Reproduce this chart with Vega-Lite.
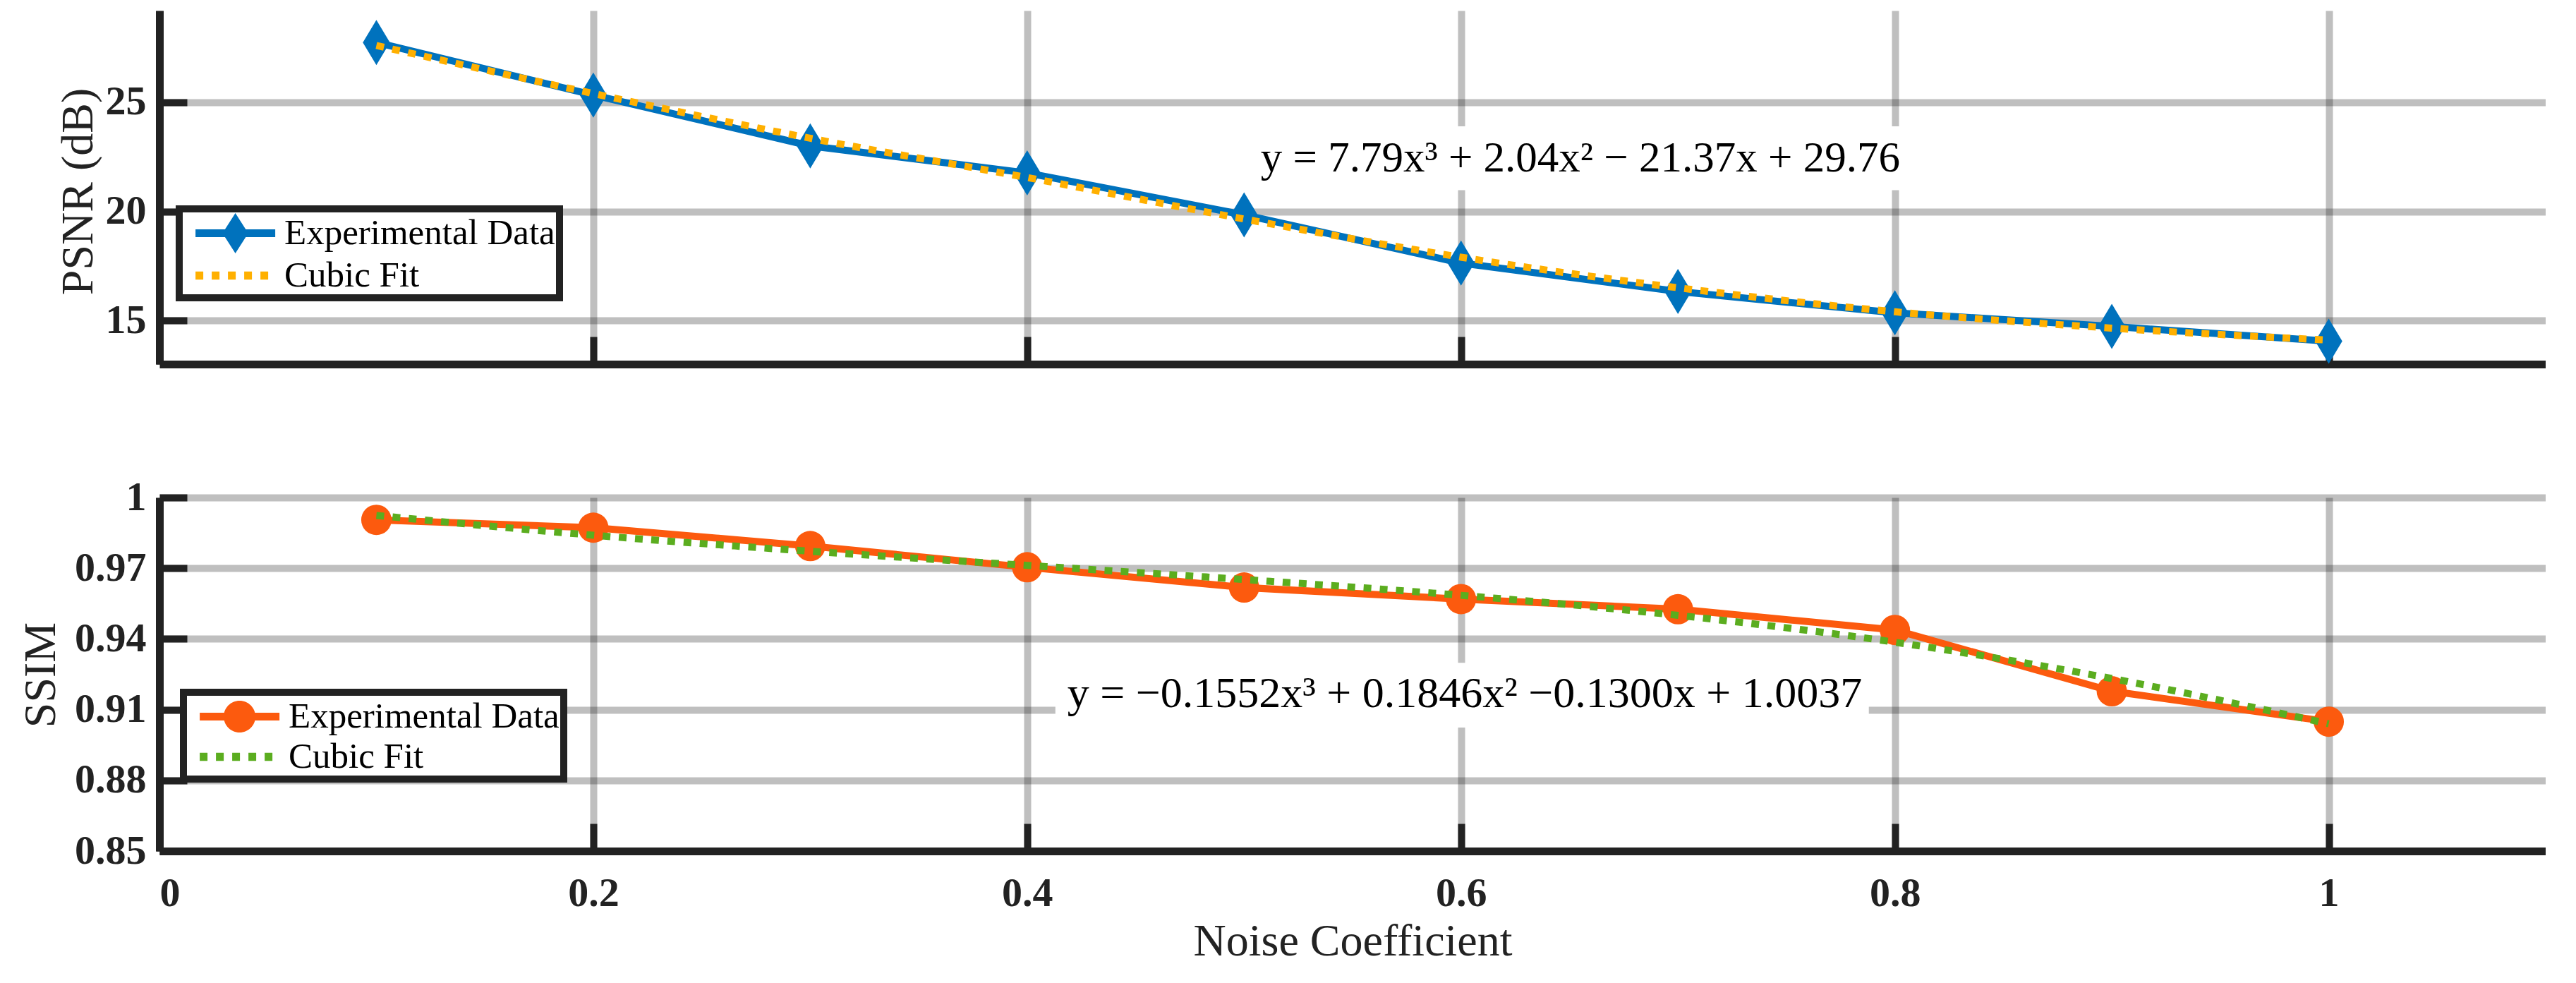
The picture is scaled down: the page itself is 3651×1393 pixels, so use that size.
{
  "$schema": "https://vega.github.io/schema/vega-lite/v6.json",
  "background": "white",
  "padding": {"left": 26, "top": 15, "right": 0, "bottom": 0},
  "bounds": "flush",
  "spacing": 189,
  "config": {
    "font": "Liberation Serif",
    "view": {"stroke": null},
    "axis": {
      "domainColor": "#222222", "domainWidth": 11,
      "tickColor": "#222222", "tickWidth": 10, "tickSize": -39,
      "gridColor": "#000000", "gridOpacity": 0.25, "gridWidth": 10,
      "labelFont": "Liberation Serif", "labelFontWeight": "bold", "labelFontSize": 58, "labelColor": "#222222",
      "titleFont": "Liberation Serif", "titleFontWeight": "normal", "titleFontSize": 64, "titleColor": "#222222"
    }
  },
  "datasets": {
    "psnr": [
      {"x": 0.1, "y": 27.74, "series": "Experimental Data"},
      {"x": 0.2, "y": 25.33, "series": "Experimental Data"},
      {"x": 0.3, "y": 23.0, "series": "Experimental Data"},
      {"x": 0.4, "y": 21.76, "series": "Experimental Data"},
      {"x": 0.5, "y": 19.84, "series": "Experimental Data"},
      {"x": 0.6, "y": 17.63, "series": "Experimental Data"},
      {"x": 0.7, "y": 16.33, "series": "Experimental Data"},
      {"x": 0.8, "y": 15.35, "series": "Experimental Data"},
      {"x": 0.9, "y": 14.73, "series": "Experimental Data"},
      {"x": 1.0, "y": 14.05, "series": "Experimental Data"},
      {"x": 0.1, "y": 27.6, "series": "Cubic Fit"},
      {"x": 0.2, "y": 25.4, "series": "Cubic Fit"},
      {"x": 0.3, "y": 23.35, "series": "Cubic Fit"},
      {"x": 0.4, "y": 21.55, "series": "Cubic Fit"},
      {"x": 0.5, "y": 19.65, "series": "Cubic Fit"},
      {"x": 0.6, "y": 17.9, "series": "Cubic Fit"},
      {"x": 0.7, "y": 16.5, "series": "Cubic Fit"},
      {"x": 0.8, "y": 15.4, "series": "Cubic Fit"},
      {"x": 0.9, "y": 14.65, "series": "Cubic Fit"},
      {"x": 1.0, "y": 14.1, "series": "Cubic Fit"}
    ],
    "ssim": [
      {"x": 0.1, "y": 0.9905, "series": "Experimental Data"},
      {"x": 0.2, "y": 0.9872, "series": "Experimental Data"},
      {"x": 0.3, "y": 0.9794, "series": "Experimental Data"},
      {"x": 0.4, "y": 0.9704, "series": "Experimental Data"},
      {"x": 0.5, "y": 0.9618, "series": "Experimental Data"},
      {"x": 0.6, "y": 0.9569, "series": "Experimental Data"},
      {"x": 0.7, "y": 0.9526, "series": "Experimental Data"},
      {"x": 0.8, "y": 0.9438, "series": "Experimental Data"},
      {"x": 0.9, "y": 0.9178, "series": "Experimental Data"},
      {"x": 1.0, "y": 0.9049, "series": "Experimental Data"},
      {"x": 0.1, "y": 0.9924, "series": "Cubic Fit"},
      {"x": 0.2, "y": 0.984, "series": "Cubic Fit"},
      {"x": 0.3, "y": 0.9772, "series": "Cubic Fit"},
      {"x": 0.4, "y": 0.9712, "series": "Cubic Fit"},
      {"x": 0.5, "y": 0.9652, "series": "Cubic Fit"},
      {"x": 0.6, "y": 0.9585, "series": "Cubic Fit"},
      {"x": 0.7, "y": 0.95, "series": "Cubic Fit"},
      {"x": 0.8, "y": 0.9386, "series": "Cubic Fit"},
      {"x": 0.9, "y": 0.9232, "series": "Cubic Fit"},
      {"x": 1.0, "y": 0.904, "series": "Cubic Fit"}
    ],
    "notes": [
      {"panel": "psnr", "kind": "box", "x": 0.5, "x2": 0.813, "y": 23.9, "y2": 20.97},
      {"panel": "psnr", "kind": "eq", "x": 0.655, "y": 22.42, "label": "y  =  7.79x³  +  2.04x²  −  21.37x  +  29.76"},
      {"panel": "ssim", "kind": "box", "x": 0.413, "x2": 0.788, "y": 0.9299, "y2": 0.9024},
      {"panel": "ssim", "kind": "eq", "x": 0.6017, "y": 0.9169, "label": "y = −0.1552x³ + 0.1846x² −0.1300x + 1.0037"}
    ]
  },
  "resolve": {"scale": {"color": "independent"}, "legend": {"color": "independent"}},
  "vconcat": [
    {
      "width": 3382,
      "height": 501,
      "encoding": {
        "x": {
          "field": "x", "type": "quantitative",
          "scale": {"domain": [0, 1.1], "nice": false, "zero": false},
          "axis": {"values": [0, 0.2, 0.4, 0.6, 0.8, 1], "labels": false, "title": null, "grid": true}
        },
        "y": {
          "field": "y", "type": "quantitative",
          "scale": {"domain": [13, 29.2], "nice": false, "zero": false},
          "axis": {"values": [15, 20, 25], "format": "d", "labelPadding": 58, "title": "PSNR (dB)", "titleX": -96, "titleY": 256, "titleBaseline": "alphabetic", "grid": true}
        }
      },
      "layer": [
        {
          "data": {"name": "notes"},
          "transform": [{"filter": "datum.panel == 'psnr' && datum.kind == 'box'"}],
          "mark": {"type": "rect", "fill": "white"},
          "encoding": {"x2": {"field": "x2"}, "y2": {"field": "y2"}}
        },
        {
          "data": {"name": "psnr"},
          "transform": [{"filter": "datum.series == 'Experimental Data'"}],
          "mark": {"type": "line", "strokeWidth": 10},
          "encoding": {
            "color": {
              "field": "series", "type": "nominal",
              "scale": {"domain": ["Experimental Data", "Cubic Fit"], "range": ["#0072BD", "#FFB000"]},
              "legend": {
                "orient": "none", "legendX": 28, "legendY": 281, "title": null,
                "strokeColor": "#222222", "fillColor": "white", "padding": 6,
                "symbolSize": 3249, "symbolStrokeWidth": 0, "labelOffset": 86, "rowPadding": 3, "labelLimit": 0,
                "labelFont": "Liberation Serif", "labelFontSize": 51, "labelColor": "#000000", "labelFontWeight": "normal",
                "encode": {
                  "legend": {"update": {"strokeWidth": {"value": 10}}},
                  "symbols": {
                    "update": {
                      "shape": {"signal": "datum.value == 'Cubic Fit' ? 'M-0.4,-0.2H-0.014V0.2H-0.4Z M0.407,-0.2H0.793V0.2H0.407Z M1.214,-0.2H1.6V0.2H1.214Z M2.021,-0.2H2.407V0.2H2.021Z M2.828,-0.2H3.214V0.2H2.828Z' : 'M-0.4,-0.193H1.066L1.582,-1L2.098,-0.193H3.565V0.193H2.098L1.582,1L1.066,0.193H-0.4Z'"},
                      "fill": {"signal": "datum.value == 'Cubic Fit' ? '#FFB000' : '#0072BD'"},
                      "stroke": {"value": "transparent"}
                    }
                  }
                }
              }
            }
          }
        },
        {
          "data": {"name": "psnr"},
          "transform": [{"filter": "datum.series == 'Experimental Data'"}],
          "mark": {"type": "point", "filled": true, "opacity": 1, "color": "#0072BD", "shape": "M0,-1L0.6,0L0,1L-0.6,0Z", "size": 4096}
        },
        {
          "data": {"name": "psnr"},
          "transform": [{"filter": "datum.series == 'Cubic Fit'"}],
          "mark": {"type": "line", "strokeWidth": 10, "strokeDash": [11, 12], "interpolate": "monotone"},
          "encoding": {"color": {"field": "series", "type": "nominal"}}
        },
        {
          "data": {"name": "notes"},
          "transform": [{"filter": "datum.panel == 'psnr' && datum.kind == 'eq'"}],
          "mark": {"type": "text", "font": "Liberation Serif", "fontSize": 61, "color": "#000000", "align": "center", "baseline": "middle"},
          "encoding": {"text": {"field": "label"}}
        }
      ]
    },
    {
      "width": 3382,
      "height": 501,
      "encoding": {
        "x": {
          "field": "x", "type": "quantitative",
          "scale": {"domain": [0, 1.1], "nice": false, "zero": false},
          "axis": {"values": [0, 0.2, 0.4, 0.6, 0.8, 1], "format": ".1~f", "labelPadding": 70, "title": "Noise Coefficient", "titleX": 1691, "titleY": 147, "titleBaseline": "alphabetic", "grid": true}
        },
        "y": {
          "field": "y", "type": "quantitative",
          "scale": {"domain": [0.85, 1.0], "nice": false, "zero": false},
          "axis": {"values": [0.85, 0.88, 0.91, 0.94, 0.97, 1], "format": ".2~f", "labelPadding": 58, "title": "SSIM", "titleX": -149, "titleY": 251, "titleBaseline": "alphabetic", "grid": true}
        }
      },
      "layer": [
        {
          "data": {"name": "notes"},
          "transform": [{"filter": "datum.panel == 'ssim' && datum.kind == 'box'"}],
          "mark": {"type": "rect", "fill": "white"},
          "encoding": {"x2": {"field": "x2"}, "y2": {"field": "y2"}}
        },
        {
          "data": {"name": "ssim"},
          "transform": [{"filter": "datum.series == 'Experimental Data'"}],
          "mark": {"type": "line", "strokeWidth": 10},
          "encoding": {
            "color": {
              "field": "series", "type": "nominal",
              "scale": {"domain": ["Experimental Data", "Cubic Fit"], "range": ["#FC5A0E", "#5BAD1F"]},
              "legend": {
                "orient": "none", "legendX": 34, "legendY": 276, "title": null,
                "strokeColor": "#222222", "fillColor": "white", "padding": 6,
                "symbolSize": 3249, "symbolStrokeWidth": 0, "labelOffset": 86, "rowPadding": 3, "labelLimit": 0,
                "labelFont": "Liberation Serif", "labelFontSize": 51, "labelColor": "#000000", "labelFontWeight": "normal",
                "encode": {
                  "legend": {"update": {"strokeWidth": {"value": 10}}},
                  "symbols": {
                    "update": {
                      "shape": {"signal": "datum.value == 'Cubic Fit' ? 'M-0.4,-0.2H-0.014V0.2H-0.4Z M0.407,-0.2H0.793V0.2H0.407Z M1.214,-0.2H1.6V0.2H1.214Z M2.021,-0.2H2.407V0.2H2.021Z M2.828,-0.2H3.214V0.2H2.828Z' : 'M-0.4,-0.193H3.565V0.193H-0.4Z M2.372,0A0.79,0.79 0 1,1 0.792,0A0.79,0.79 0 1,1 2.372,0Z'"},
                      "fill": {"signal": "datum.value == 'Cubic Fit' ? '#5BAD1F' : '#FC5A0E'"},
                      "stroke": {"value": "transparent"}
                    }
                  }
                }
              }
            }
          }
        },
        {
          "data": {"name": "ssim"},
          "transform": [{"filter": "datum.series == 'Experimental Data'"}],
          "mark": {"type": "point", "filled": true, "opacity": 1, "color": "#FC5A0E", "shape": "circle", "size": 1849}
        },
        {
          "data": {"name": "ssim"},
          "transform": [{"filter": "datum.series == 'Cubic Fit'"}],
          "mark": {"type": "line", "strokeWidth": 10, "strokeDash": [11, 12], "interpolate": "monotone"},
          "encoding": {"color": {"field": "series", "type": "nominal"}}
        },
        {
          "data": {"name": "notes"},
          "transform": [{"filter": "datum.panel == 'ssim' && datum.kind == 'eq'"}],
          "mark": {"type": "text", "font": "Liberation Serif", "fontSize": 62, "color": "#000000", "align": "center", "baseline": "middle"},
          "encoding": {"text": {"field": "label"}}
        }
      ]
    }
  ]
}
